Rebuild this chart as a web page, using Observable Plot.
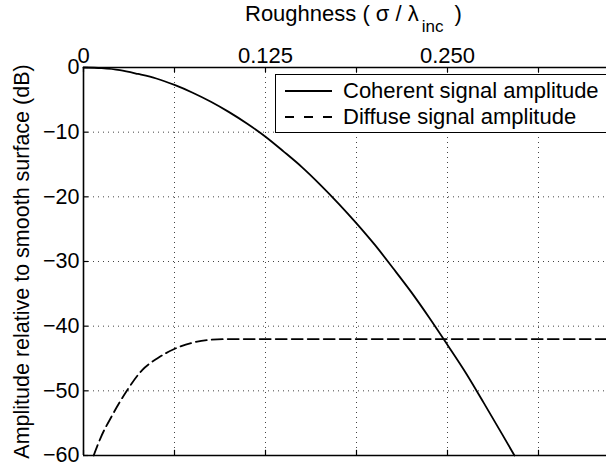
<!DOCTYPE html>
<html>
<head>
<meta charset="utf-8">
<script src="https://cdn.jsdelivr.net/npm/d3@7"></script>
<script src="https://cdn.jsdelivr.net/npm/@observablehq/plot@0.6"></script>
<style>
  body { margin: 0; background: #fff; }
  #wrap { position: relative; width: 606px; height: 470px; overflow: hidden; background: #fff;
          font-family: "Liberation Sans", Arial, sans-serif; color: #000; }
  #wrap > svg { position: absolute; left: 0; top: 0; overflow: hidden; }
  #title { position: absolute; left: 245px; top: 3px; font-size: 22px; line-height: 1; white-space: nowrap; }
  #title sub { font-size: 17px; vertical-align: -11px; line-height: 0; padding-left: 3px; padding-right: 5px; }
  #legend { position: absolute; left: 275px; top: 74px; width: 400px; height: 59px; border: 1.5px solid #000;
            background: #fff; box-sizing: border-box; font-size: 22px; }
  #legend .row { position: absolute; left: 0; height: 26px; display: flex; align-items: center; white-space: nowrap; }
  #legend .row svg { display: block; margin-left: 9px; margin-right: 11px; }
</style>
</head>
<body>
<div id="wrap">
  <div id="title">Roughness ( σ / λ<sub>inc</sub> )</div>
</div>
<script>
// Data
const roughness = [0, 0.0125, 0.025, 0.0375, 0.05, 0.0625, 0.075, 0.0875, 0.1, 0.1125, 0.125, 0.1375, 0.15, 0.1625, 0.175, 0.1875, 0.2, 0.2125, 0.225, 0.2375, 0.25, 0.2625, 0.275, 0.2875, 0.296];
const coherentDb = [0, -0.1, -0.4, -1.0, -1.7, -2.7, -3.9, -5.3, -6.9, -8.7, -10.7, -13.0, -15.4, -18.1, -21.0, -24.1, -27.4, -31.0, -34.7, -38.7, -42.9, -47.2, -51.9, -56.7, -60];

const diffuseRoughness = [0.007, 0.0117, 0.0197, 0.03, 0.0403, 0.0506, 0.0627, 0.0758, 0.0872, 0.1, 0.125, 0.2, 0.3, 0.375];
const diffuseDb = [-60, -57.3, -53.8, -49.9, -46.8, -45.0, -43.5, -42.5, -42.1, -42.0, -42.0, -42.0, -42.0, -42.0];

const xGridTicks = [0, 0.0625, 0.125, 0.1875, 0.25, 0.3125, 0.375];
const xLabelTicks = [0, 0.125, 0.25];
const xTickLabels = ["0", "0.125", "0.250"];
const yTicks = [0, -10, -20, -30, -40, -50, -60];
const seriesNames = ["Coherent signal amplitude", "Diffuse signal amplitude"];

const coherent = roughness.map((x, i) => ({x, y: coherentDb[i]}));
const diffuse = diffuseRoughness.map((x, i) => ({x, y: diffuseDb[i]}));
const xLabelMap = new Map(xLabelTicks.map((t, i) => [t, xTickLabels[i]]));

const gridStyle = {stroke: "#444", strokeOpacity: 1, strokeWidth: 1, strokeDasharray: "1,4"};

const chart = Plot.plot({
  width: 606,
  height: 470,
  marginTop: 67,
  marginBottom: 15,
  marginLeft: 83,
  marginRight: 0,
  style: {fontFamily: "Liberation Sans, Arial, sans-serif", fontSize: "22px", color: "#000", background: "transparent", overflow: "hidden"},
  x: {domain: [0, 0.375], range: [83, 629]},
  y: {domain: [-60, 0]},
  marks: [
    Plot.gridX(xGridTicks.slice(1), gridStyle),
    Plot.gridY(yTicks.slice(1, -1), gridStyle),
    Plot.axisX(xLabelTicks, {anchor: "top", tickSize: 0, tickPadding: 5, tickFormat: d => xLabelMap.get(d), label: null}),
    Plot.axisY(yTicks, {anchor: "left", tickSize: 0, tickPadding: 4, tickFormat: d => d === 0 ? "0" : "\u2212" + Math.abs(d),
      label: "Amplitude relative to smooth surface (dB)", labelAnchor: "center", labelArrow: "none", labelOffset: 70,
      fontSize: 21.5}),
    // inward tick marks
    Plot.ruleX(xGridTicks, {x: d => d, y1: 0, y2: -0.8, stroke: "#000", strokeWidth: 1.2}),
    Plot.ruleX(xGridTicks, {x: d => d, y1: -60, y2: -59.2, stroke: "#000", strokeWidth: 1.2}),
    Plot.ruleY(yTicks, {y: d => d, x1: 0, x2: 0.0035, stroke: "#000", strokeWidth: 1.2}),
    // data
    Plot.line(coherent, {x: "x", y: "y", curve: "monotone-x", stroke: "#000", strokeWidth: 1.8}),
    Plot.line(diffuse, {x: "x", y: "y", curve: "monotone-x", stroke: "#000", strokeWidth: 1.8, strokeDasharray: "11,5"}),
    // axes box
    Plot.ruleY([0, -60], {stroke: "#000", strokeWidth: 1.6}),
    Plot.ruleX([0], {stroke: "#000", strokeWidth: 1.6})
  ]
});

const wrap = document.getElementById("wrap");
wrap.insertBefore(chart, wrap.firstChild);

// legend
const legend = document.createElement("div");
legend.id = "legend";
seriesNames.forEach((name, i) => {
  const row = document.createElement("div");
  row.className = "row";
  row.style.top = (i === 0 ? 3 : 29) + "px";
  const dash = i === 0 ? null : "9,10";
  row.innerHTML = `<svg width="47" height="4"><line x1="0" y1="2" x2="47" y2="2" stroke="#000" stroke-width="1.8" ${dash ? `stroke-dasharray="${dash}"` : ""}/></svg><span>${name}</span>`;
  legend.appendChild(row);
});
wrap.appendChild(legend);
</script>
</body>
</html>
